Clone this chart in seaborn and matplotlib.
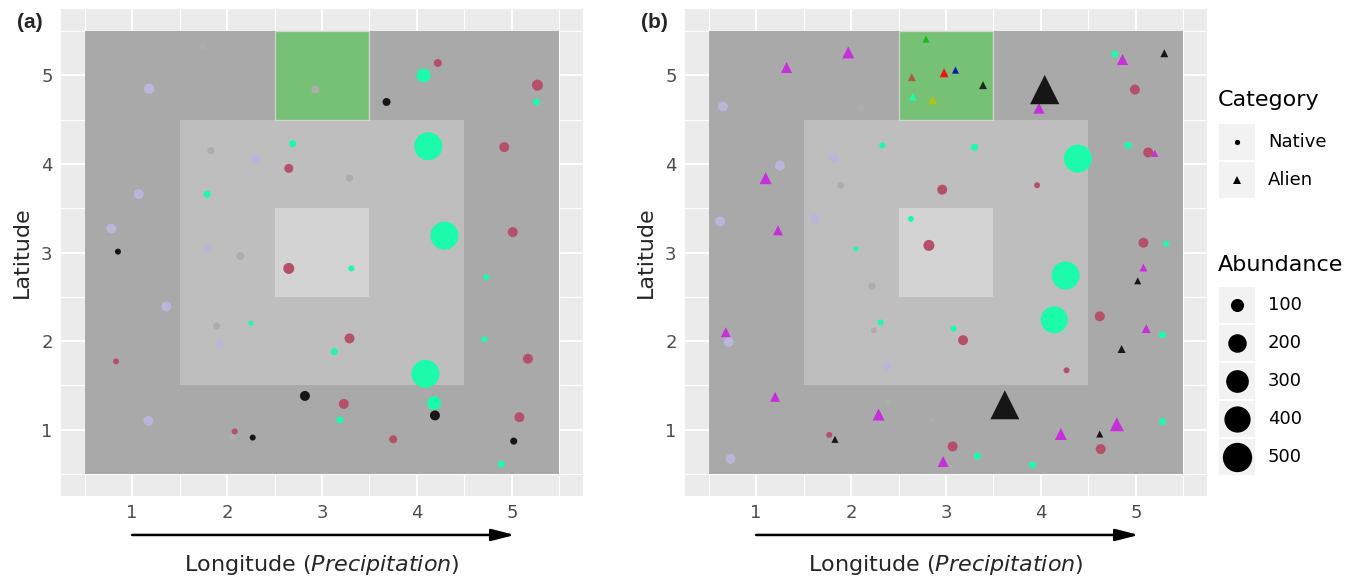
import numpy as np
import pandas as pd
import matplotlib
matplotlib.use("Agg")
import matplotlib.pyplot as plt
from matplotlib.patches import Rectangle
import seaborn as sns

# --- Background zones (longitude / latitude bounds) ---
zone_x0 = [0.5, 1.5, 2.5, 2.5]
zone_x1 = [5.5, 4.5, 3.5, 3.5]
zone_y0 = [0.5, 1.5, 2.5, 4.5]
zone_y1 = [5.5, 4.5, 3.5, 5.5]
zone_fill = ["#A9A9A9", "#BEBEBE", "#D3D3D3", "#77C177"]
zone_edge = ["none", "none", "none", "#D4D4D4"]

# --- Panel (a): all native species ---
a_lon = [1.18, 2.30, 1.07, 0.78, 1.79, 1.36, 1.92, 1.17,
         1.74, 2.93, 1.83, 2.14, 3.29, 1.89, 2.06,
         2.65, 4.22, 5.27, 4.92, 5.01, 2.65, 0.83, 2.08, 3.29, 5.17, 3.23, 5.08, 3.75,
         2.69, 1.79, 4.07, 5.26, 4.12, 4.29, 2.25, 3.31, 4.73, 3.13, 4.71, 4.09, 4.18, 3.19, 4.89,
         0.85, 3.68, 2.82, 2.27, 4.19, 5.02]
a_lat = [4.85, 4.06, 3.66, 3.27, 3.04, 2.39, 1.97, 1.10,
         5.33, 4.84, 4.15, 2.96, 3.84, 2.17, 0.91,
         3.95, 5.14, 4.89, 4.19, 3.23, 2.82, 1.77, 0.98, 2.03, 1.80, 1.29, 1.14, 0.89,
         4.23, 3.66, 5.00, 4.70, 4.20, 3.19, 2.20, 2.82, 2.72, 1.88, 2.02, 1.63, 1.30, 1.11, 0.61,
         3.01, 4.70, 1.38, 0.91, 1.16, 0.87]
a_abund = [64, 47, 58, 58, 37, 58, 37, 58,
           29, 37, 29, 37, 29, 29, 37,
           47, 37, 71, 58, 58, 71, 21, 21, 58, 58, 58, 58, 37,
           29, 29, 114, 29, 457, 457, 15, 21, 21, 29, 21, 457, 114, 29, 29,
           21, 37, 58, 21, 58, 29]
a_group = (["lavender"] * 8 + ["grey"] * 7 + ["crimson"] * 13
           + ["spring"] * 15 + ["black"] * 6)
a_cat = ["Native"] * len(a_lon)

# --- Panel (b): natives plus aliens ---
b_lon = [0.65, 1.81, 1.25, 0.62, 1.62, 0.71, 2.38, 0.73,
         2.10, 1.89, 2.22, 2.24, 2.39, 2.85,
         2.96, 2.82, 4.99, 5.13, 3.96, 5.08, 4.62, 3.18, 4.27, 1.77, 3.07, 4.63,
         2.33, 2.63, 2.05, 4.78, 3.30, 4.39, 4.92, 5.32, 2.31, 4.26, 4.14, 5.28, 3.08, 3.33, 3.91, 5.28,
         1.97, 1.32, 1.10, 1.23, 3.98, 4.86, 5.20, 0.68, 1.20, 2.29, 2.97, 5.08, 5.11, 4.80, 4.21,
         4.04, 5.30, 1.83, 5.02, 4.85, 3.62, 4.62,
         2.79, 2.64, 2.98, 2.65, 2.86, 3.10, 3.39]
b_lat = [4.65, 4.07, 3.98, 3.35, 3.38, 1.99, 1.72, 0.67,
         4.63, 3.76, 2.62, 2.12, 1.31, 1.11,
         3.71, 3.08, 4.84, 4.13, 3.76, 3.11, 2.28, 2.01, 1.67, 0.94, 0.81, 0.78,
         4.21, 3.38, 3.04, 5.24, 4.19, 4.06, 4.21, 3.10, 2.21, 2.74, 2.24, 2.07, 2.14, 0.70, 0.60, 1.09,
         5.26, 5.09, 3.84, 3.25, 4.63, 5.18, 4.12, 2.10, 1.37, 1.17, 0.64, 2.83, 2.14, 1.06, 0.95,
         4.84, 5.25, 0.89, 2.68, 1.91, 1.28, 0.95,
         5.41, 4.98, 5.03, 4.76, 4.72, 5.06, 4.89]
b_abund = [58, 47, 58, 58, 47, 58, 37, 58,
           37, 29, 29, 21, 29, 15,
           58, 71, 58, 58, 21, 58, 58, 58, 21, 21, 58, 58,
           21, 21, 15, 29, 29, 457, 29, 21, 21, 457, 425, 29, 21, 29, 29, 29,
           84, 71, 84, 58, 71, 71, 29, 58, 58, 84, 71, 37, 47, 114, 84,
           525, 37, 29, 29, 37, 490, 29,
           29, 37, 47, 37, 37, 29, 37]
b_group = (["lavender"] * 8 + ["grey"] * 6 + ["crimson"] * 12 + ["spring"] * 16
           + ["magenta"] * 15 + ["black"] * 7
           + ["green", "brown", "red", "spring", "olive", "blue", "dark"])
b_cat = ["Native"] * 42 + ["Alien"] * 29

palette = {"lavender": "#BAB5D9", "grey": "#ADADAD", "crimson": "#B5506A",
           "spring": "#1BFBAA", "black": "#161616", "magenta": "#C62FD9",
           "green": "#14BE14", "brown": "#AC5C3E", "red": "#EE1414",
           "blue": "#1414A8", "olive": "#B4C400", "dark": "#1C2A1C"}
markers = {"Native": "o", "Alien": "^"}

# legend entries
cat_levels = ["Native", "Alien"]
abund_levels = [100, 200, 300, 400, 500]
arrow_x = (1.0, 5.03)

W, H = 1354, 581
S500 = 445  # marker area (pt^2) for abundance 500


def draw_panel(ax, df):
    for x0, x1, y0, y1, fc, ec in zip(zone_x0, zone_x1, zone_y0, zone_y1, zone_fill, zone_edge):
        ax.add_patch(Rectangle((x0, y0), x1 - x0, y1 - y0, facecolor=fc,
                               edgecolor=ec, lw=0.9, zorder=1))
    sns.scatterplot(data=df, x="lon", y="lat", hue="group", palette=palette,
                    style="cat", markers=markers, size="abund", sizes=(0, S500),
                    size_norm=(0, 500), linewidth=0, alpha=1, legend=False,
                    ax=ax, zorder=3)
    ax.set_xlim(0.25, 5.75)
    ax.set_ylim(0.25, 5.75)
    ax.set_facecolor("#EBEBEB")
    ax.set_xticks([1, 2, 3, 4, 5])
    ax.set_yticks([1, 2, 3, 4, 5])
    ax.set_xticks(np.arange(0.5, 5.6, 1.0), minor=True)
    ax.set_yticks(np.arange(0.5, 5.6, 1.0), minor=True)
    ax.set_axisbelow(True)
    ax.grid(which="major", color="white", lw=1.4)
    ax.grid(which="minor", color="white", lw=0.8)
    ax.tick_params(which="major", length=4, width=1, color="#333333",
                   labelcolor="#4D4D4D", labelsize=13, pad=2)
    ax.tick_params(which="minor", length=0)
    for s in ax.spines.values():
        s.set_visible(False)
    ax.set_xlabel(r"Longitude ($\mathit{Precipitation}$)", fontsize=16)
    ax.set_ylabel("Latitude", fontsize=16)
    ax.xaxis.set_label_coords(0.5, -0.117)
    ax.yaxis.set_label_coords(-0.055, 0.5)
    ax.annotate("", xy=(arrow_x[1], -0.080), xytext=(arrow_x[0], -0.080),
                xycoords=("data", "axes fraction"), textcoords=("data", "axes fraction"),
                arrowprops=dict(arrowstyle="-|>,head_length=0.7,head_width=0.18",
                                lw=1.8, color="black", mutation_scale=20,
                                shrinkA=0, shrinkB=0),
                annotation_clip=False)


sns.set_style("darkgrid")
plt.rcParams["font.family"] = ["DejaVu Sans"]
plt.rcParams["mathtext.fontset"] = "dejavusans"

df_a = pd.DataFrame({"lon": a_lon, "lat": a_lat, "group": a_group, "cat": a_cat, "abund": a_abund})
df_b = pd.DataFrame({"lon": b_lon, "lat": b_lat, "group": b_group, "cat": b_cat, "abund": b_abund})

fig = plt.figure(figsize=(W / 100, H / 100), dpi=100)
ax_a = fig.add_axes([61 / W, 1 - 496 / H, 522 / W, 487 / H])
ax_b = fig.add_axes([685 / W, 1 - 496 / H, 522 / W, 487 / H])
draw_panel(ax_a, df_a)
draw_panel(ax_b, df_b)

fig.text(17 / W, 1 - 23 / H, "(a)", family="Liberation Sans", weight="bold", fontsize=15, va="center")
fig.text(641 / W, 1 - 23 / H, "(b)", family="Liberation Sans", weight="bold", fontsize=15, va="center")

# --- Legends (drawn in a pixel-space overlay) ---
lax = fig.add_axes([0, 0, 1, 1], facecolor="none")
lax.set_xlim(0, W)
lax.set_ylim(H, 0)
lax.axis("off")

KEY, STEP, KX, LX = 36, 38, 1219, 1268


def legend_block(title, title_y, top, labels, mks, sizes):
    lax.text(1218, title_y, title, fontsize=16, va="baseline", color="black")
    for i, (lab, mk, ms) in enumerate(zip(labels, mks, sizes)):
        y0 = top + i * STEP
        lax.add_patch(Rectangle((KX, y0), KEY, KEY, facecolor="#F2F2F2", edgecolor="none"))
        lax.plot([KX + KEY / 2], [y0 + KEY / 2], marker=mk, ms=ms, color="black", ls="", mew=0)
        lax.text(LX, y0 + KEY / 2, lab, fontsize=13, va="center", color="black")


legend_block("Category", 106, 124, cat_levels, [markers[c] for c in cat_levels], [3.8, 5.2])
legend_block("Abundance", 271, 287, [str(v) for v in abund_levels], ["o"] * 5,
             [np.sqrt(S500 * v / 500) for v in abund_levels])

fig.savefig("out.png", dpi=100)
